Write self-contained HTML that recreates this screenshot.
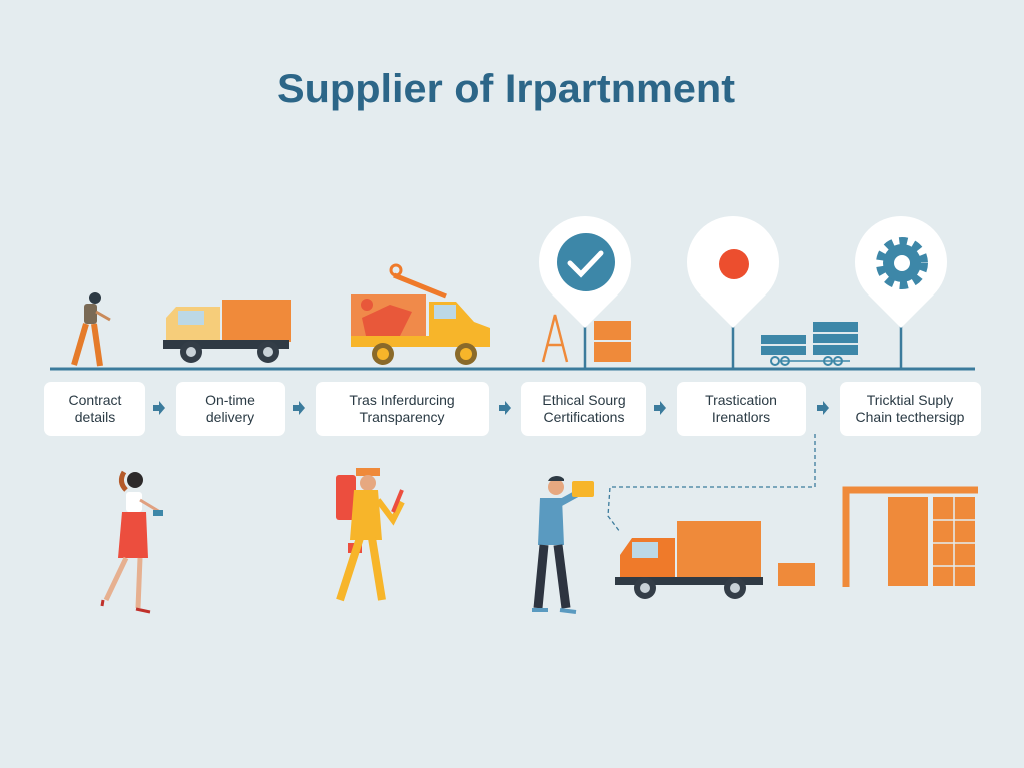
<!DOCTYPE html>
<html><head><meta charset="utf-8"><style>
html,body{margin:0;padding:0;background:#e4ecef;}
svg{display:block}
</style></head><body>
<svg width="1024" height="768" viewBox="0 0 1024 768" xmlns="http://www.w3.org/2000/svg" font-family="Liberation Sans, sans-serif">
<rect width="1024" height="768" fill="#e4ecef"/>
<text x="506" y="102" text-anchor="middle" font-size="40" font-weight="bold" fill="#2c6688" textLength="458" lengthAdjust="spacingAndGlyphs">Supplier of Irpartnment</text>

<line x1="50" y1="369" x2="975" y2="369" stroke="#3b7b9c" stroke-width="3"/>

<circle cx="95" cy="298" r="6" fill="#2d3a44"/>
<rect x="84" y="304" width="13" height="20" rx="3" fill="#7a6a55"/>
<line x1="96" y1="312" x2="110" y2="320" stroke="#c98a5a" stroke-width="3"/>
<path d="M86 324 L74 365 M94 324 L100 366" stroke="#e57b2a" stroke-width="6" fill="none"/>

<rect x="222" y="300" width="69" height="42" fill="#f08a3a"/>
<path d="M166 342 L166 318 L176 307 L220 307 L220 342 Z" fill="#f6cd7a"/>
<rect x="178" y="311" width="26" height="14" fill="#bcd8e6"/>
<rect x="163" y="340" width="126" height="9" fill="#2f3a44"/>
<circle cx="191" cy="352" r="11" fill="#333d47"/><circle cx="191" cy="352" r="5" fill="#c9d2d8"/>
<circle cx="268" cy="352" r="11" fill="#333d47"/><circle cx="268" cy="352" r="5" fill="#c9d2d8"/>

<rect x="351" y="294" width="75" height="42" fill="#f08a4a"/>
<path d="M362 318 L390 305 L412 312 L400 336 L366 336 Z" fill="#e8583a"/>
<circle cx="367" cy="305" r="6" fill="#e8583a"/>
<path d="M394 275 L446 296" stroke="#ef7a2a" stroke-width="5"/>
<circle cx="396" cy="270" r="5" fill="none" stroke="#ef7a2a" stroke-width="3"/>
<path d="M429 302 L456 302 L474 322 L490 328 L490 347 L429 347 Z" fill="#f7b52a"/>
<rect x="434" y="305" width="22" height="14" fill="#bcd8e6"/>
<rect x="351" y="336" width="78" height="11" fill="#f7b52a"/>
<circle cx="383" cy="354" r="11" fill="#8a6a2a"/><circle cx="383" cy="354" r="6" fill="#f7b52a"/>
<circle cx="466" cy="354" r="11" fill="#8a6a2a"/><circle cx="466" cy="354" r="6" fill="#f7b52a"/>

<g>
<line x1="585" y1="310" x2="585" y2="369" stroke="#3b7b9c" stroke-width="2.5"/>
<path d="M552 295 L585 328 L618 295 Z" fill="#fff"/>
<circle cx="585" cy="262" r="46" fill="#fff"/>
<circle cx="586" cy="262" r="29" fill="#3d87a8"/>
<path d="M570 263 L581 274 L601 253" stroke="#fff" stroke-width="5" fill="none" stroke-linecap="round"/>
<path d="M543 362 L555 315 L567 362 M547 345 L563 345" stroke="#ef8a3a" stroke-width="2.5" fill="none"/>
<rect x="594" y="321" width="37" height="41" fill="#ef8a3a"/>
<line x1="594" y1="341" x2="631" y2="341" stroke="#e3ebee" stroke-width="2"/>
</g>
<g>
<line x1="733" y1="310" x2="733" y2="369" stroke="#3b7b9c" stroke-width="2.5"/>
<path d="M700 295 L733 328 L766 295 Z" fill="#fff"/>
<circle cx="733" cy="262" r="46" fill="#fff"/>
<circle cx="734" cy="264" r="15" fill="#ec4e2e"/>
<rect x="761" y="335" width="45" height="20" fill="#3d87a8"/>
<rect x="813" y="322" width="45" height="33" fill="#3d87a8"/>
<line x1="761" y1="345" x2="806" y2="345" stroke="#dfe9ed" stroke-width="2"/>
<line x1="813" y1="333" x2="858" y2="333" stroke="#dfe9ed" stroke-width="2"/>
<line x1="813" y1="344" x2="858" y2="344" stroke="#dfe9ed" stroke-width="2"/>
<line x1="780" y1="361" x2="850" y2="361" stroke="#3d87a8" stroke-width="1.5"/>
<circle cx="775" cy="361" r="4" fill="none" stroke="#3d87a8" stroke-width="2"/>
<circle cx="785" cy="361" r="4" fill="none" stroke="#3d87a8" stroke-width="2"/>
<circle cx="828" cy="361" r="4" fill="none" stroke="#3d87a8" stroke-width="2"/>
<circle cx="838" cy="361" r="4" fill="none" stroke="#3d87a8" stroke-width="2"/>
</g>
<g>
<line x1="901" y1="310" x2="901" y2="369" stroke="#3b7b9c" stroke-width="2.5"/>
<path d="M868 295 L901 328 L934 295 Z" fill="#fff"/>
<circle cx="901" cy="262" r="46" fill="#fff"/>
<circle cx="902" cy="263" r="22" fill="none" stroke="#3d87a8" stroke-width="8" stroke-dasharray="8 6.4"/>
<circle cx="902" cy="263" r="19" fill="#3d87a8"/>
<circle cx="902" cy="263" r="8" fill="#fff"/>
</g>

<g fill="#fff">
<rect x="44" y="382" width="101" height="54" rx="7"/>
<rect x="176" y="382" width="109" height="54" rx="7"/>
<rect x="316" y="382" width="173" height="54" rx="7"/>
<rect x="521" y="382" width="125" height="54" rx="7"/>
<rect x="677" y="382" width="129" height="54" rx="7"/>
<rect x="840" y="382" width="141" height="54" rx="7"/>
</g>
<g font-size="14" fill="#2a3a44" text-anchor="middle">
<text x="95" y="405">Contract</text><text x="95" y="422">details</text>
<text x="230" y="405">On-time</text><text x="230" y="422">delivery</text>
<text x="402" y="405">Tras Inferdurcing</text><text x="402" y="422">Transparency</text>
<text x="584" y="405">Ethical Sourg</text><text x="584" y="422">Certifications</text>
<text x="741" y="405">Trastication</text><text x="741" y="422">Irenatlors</text>
<text x="910" y="405">Tricktial Suply</text><text x="910" y="422">Chain tecthersigp</text>
</g>
<g fill="#3b7b9c">
<path d="M153 405 h6 v-4 l6 7 l-6 7 v-4 h-6z"/>
<path d="M293 405 h6 v-4 l6 7 l-6 7 v-4 h-6z"/>
<path d="M499 405 h6 v-4 l6 7 l-6 7 v-4 h-6z"/>
<path d="M654 405 h6 v-4 l6 7 l-6 7 v-4 h-6z"/>
<path d="M817 405 h6 v-4 l6 7 l-6 7 v-4 h-6z"/>
</g>

<path d="M815 434 L815 487 L610 487 L608 516 L620 532" stroke="#3b7b9c" stroke-width="1.3" stroke-dasharray="4 3" fill="none"/>

<circle cx="135" cy="480" r="8" fill="#2d2a2a"/>
<path d="M124 472 q-6 10 2 18" stroke="#b45a2a" stroke-width="5" fill="none"/>
<rect x="126" y="492" width="16" height="20" rx="3" fill="#fff"/>
<path d="M122 512 L146 512 L148 558 L118 558 Z" fill="#ec4e3e"/>
<path d="M140 500 L160 512" stroke="#e0a080" stroke-width="3"/>
<rect x="153" y="510" width="10" height="6" fill="#3d87a8"/>
<path d="M126 558 L106 600 M140 558 L138 608" stroke="#e6b090" stroke-width="5"/>
<path d="M103 600 L102 606 M136 609 L150 612" stroke="#c0302a" stroke-width="3"/>

<rect x="336" y="475" width="20" height="45" rx="3" fill="#ec4e3e"/>
<rect x="356" y="468" width="24" height="8" fill="#ef8a3a"/>
<circle cx="368" cy="483" r="8" fill="#e6a880"/>
<path d="M354 490 L378 490 L382 540 L350 540 Z" fill="#f7b52a"/>
<path d="M378 500 L393 520 L402 502" stroke="#f7b52a" stroke-width="6" fill="none"/>
<path d="M393 512 L402 490" stroke="#ec4e3e" stroke-width="4"/>
<rect x="348" y="543" width="14" height="10" fill="#ec4e3e"/>
<path d="M360 538 L340 600 M372 538 L382 600" stroke="#f7b52a" stroke-width="8"/>

<circle cx="556" cy="487" r="8" fill="#e6a880"/>
<path d="M548 481 a9 7 0 0 1 16 -2 l0 2z" fill="#2d3a44"/>
<path d="M540 498 L562 498 L564 545 L538 545 Z" fill="#5a9ac0"/>
<path d="M560 503 L580 492" stroke="#5a9ac0" stroke-width="7"/>
<rect x="572" y="481" width="22" height="16" rx="2" fill="#f7b52a"/>
<path d="M544 545 L538 608 M558 545 L566 608" stroke="#2d3440" stroke-width="9"/>
<path d="M532 610 L548 610 M560 610 L576 612" stroke="#5a9ac0" stroke-width="4"/>

<rect x="677" y="521" width="84" height="56" fill="#ef8a3a"/>
<path d="M620 580 L620 555 L632 538 L675 538 L675 580 Z" fill="#ef7a2a"/>
<rect x="632" y="542" width="26" height="16" fill="#bcd8e6"/>
<rect x="615" y="577" width="148" height="8" fill="#2f3a44"/>
<circle cx="645" cy="588" r="11" fill="#333d47"/><circle cx="645" cy="588" r="5" fill="#c9d2d8"/>
<circle cx="735" cy="588" r="11" fill="#333d47"/><circle cx="735" cy="588" r="5" fill="#c9d2d8"/>
<rect x="778" y="563" width="37" height="23" fill="#ef8a3a"/>

<path d="M846 587 L846 490 L978 490" stroke="#ef8a3a" stroke-width="7" fill="none"/>
<rect x="888" y="497" width="40" height="89" fill="#ef8a3a"/>
<rect x="933" y="497" width="42" height="89" fill="#ef8a3a"/>
<line x1="954" y1="497" x2="954" y2="586" stroke="#e4ecef" stroke-width="1.5"/>
<line x1="933" y1="520" x2="975" y2="520" stroke="#e4ecef" stroke-width="1.5"/>
<line x1="933" y1="543" x2="975" y2="543" stroke="#e4ecef" stroke-width="1.5"/>
<line x1="933" y1="566" x2="975" y2="566" stroke="#e4ecef" stroke-width="1.5"/>
</svg>
</body></html>
